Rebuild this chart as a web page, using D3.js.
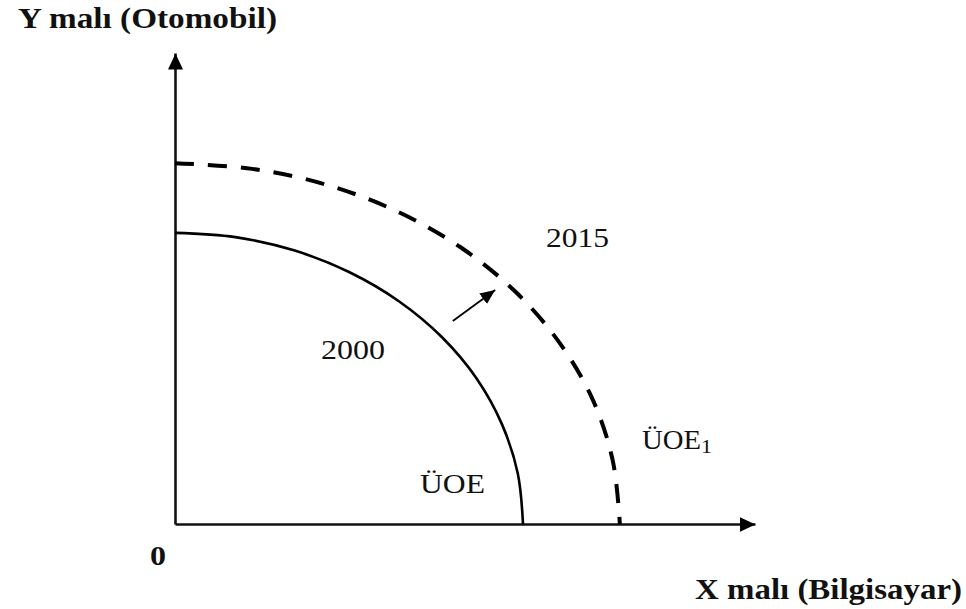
<!DOCTYPE html>
<html>
<head>
<meta charset="utf-8">
<script src="https://cdn.jsdelivr.net/npm/d3@7"></script>
<style>
  body { margin: 0; background: #fff; }
  text { font-family: "Liberation Serif", "Times New Roman", serif; fill: #111; }
</style>
</head>
<body>
<svg id="chart" width="966" height="609"></svg>
<script>
// curve points (x = Bilgisayar, y = Otomobil)
var ppf2000X = [0, 1.04, 2.05, 3.0, 3.86, 4.6, 5.2, 5.64, 5.91, 6.0]
var ppf2000Y = [6.18, 6.09, 5.81, 5.35, 4.73, 3.97, 3.09, 2.11, 1.07, 0]

var ppf2015X = [0, 1.33, 2.62, 3.84, 4.93, 5.88, 6.64, 7.21, 7.55, 7.67]
var ppf2015Y = [7.66, 7.54, 7.2, 6.63, 5.87, 4.92, 3.83, 2.62, 1.33, 0]

// shift arrow: from / to
var shiftX = [4.79, 5.52]
var shiftY = [4.31, 4.97]

var yTitle = "Y malı (Otomobil)"
var xTitle = "X malı (Bilgisayar)"
var originLabel = "0"

var svg = d3.select("#chart")

var x = d3.scaleLinear().domain([0, 10]).range([175, 755])
var y = d3.scaleLinear().domain([0, 10]).range([524, 53])

var defs = svg.append("defs")

function arrowMarker(id, len, wid) {
    defs.append("marker")
        .attr("id", id)
        .attr("markerUnits", "userSpaceOnUse")
        .attr("viewBox", "0 0 " + len + " " + wid)
        .attr("refX", len)
        .attr("refY", wid / 2)
        .attr("markerWidth", len)
        .attr("markerHeight", wid)
        .attr("orient", "auto")
        .append("path")
        .attr("d", "M0,0L" + len + "," + (wid / 2) + "L0," + wid + "Z")
        .style("fill", "#000")
}
arrowMarker("axisHead", 16, 15)
arrowMarker("shiftHead", 15, 13)

// axes, no ticks, arrow heads at the ends
var xAxis = svg.append("g")
    .attr("transform", "translate(0," + y(0) + ")")
    .call(d3.axisBottom(x).tickValues([]).tickSizeOuter(0))
var yAxis = svg.append("g")
    .attr("transform", "translate(" + x(0) + ",0)")
    .call(d3.axisLeft(y).tickValues([]).tickSizeOuter(0))

svg.selectAll(".domain")
    .attr("stroke", "#111")
    .attr("stroke-width", 2.6)
    .attr("marker-end", "url(#axisHead)")

var line = d3.line()
    .x(function(d) { return x(d[0]) })
    .y(function(d) { return y(d[1]) })
    .curve(d3.curveCatmullRom.alpha(0.5))

var pts2000 = ppf2000X.map(function(v, i) { return [v, ppf2000Y[i]] })
var pts2015 = ppf2015X.map(function(v, i) { return [v, ppf2015Y[i]] })

svg.append("path")
    .datum(pts2000)
    .attr("d", line)
    .attr("fill", "none")
    .attr("stroke", "#000")
    .attr("stroke-width", 2.6)

svg.append("path")
    .datum(pts2015)
    .attr("d", line)
    .attr("fill", "none")
    .attr("stroke", "#000")
    .attr("stroke-width", 4)
    .attr("stroke-dasharray", "19,14")

svg.append("line")
    .attr("x1", x(shiftX[0]))
    .attr("y1", y(shiftY[0]))
    .attr("x2", x(shiftX[1]))
    .attr("y2", y(shiftY[1]))
    .attr("stroke", "#000")
    .attr("stroke-width", 1.8)
    .attr("marker-end", "url(#shiftHead)")

// labels
function label(txt, px, py, size, len, bold) {
    return svg.append("text")
        .attr("x", px)
        .attr("y", py)
        .attr("textLength", len)
        .attr("lengthAdjust", "spacingAndGlyphs")
        .style("font-size", size + "px")
        .style("font-weight", bold ? "bold" : "normal")
        .text(txt)
}

label(yTitle, 18, 28, 29, 259, true)
label(xTitle, 695, 599, 29, 267, true)
label(originLabel, 150, 565, 27, 16, true)
label("2000", 321, 359, 27, 64, false)
label("2015", 546, 247, 27, 63, false)
label("ÜOE", 420, 493, 27, 65, false)
label("ÜOE", 642, 449, 27, 59, false)
label("1", 701, 453, 19, 11, false)
</script>
</body>
</html>
